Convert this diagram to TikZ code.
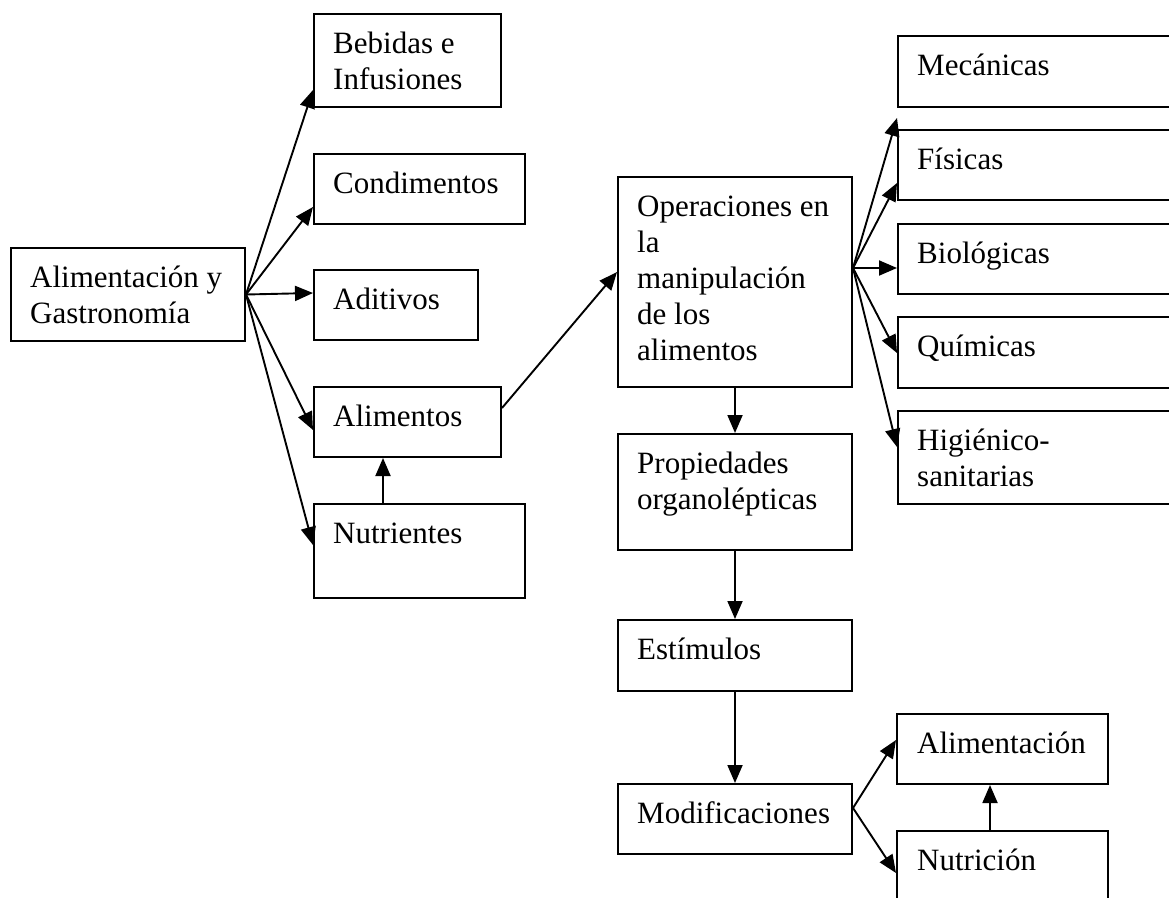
\documentclass[tikz,border=0pt]{standalone}
\usepackage{fontspec}
\setmainfont{Liberation Serif}
\usetikzlibrary{arrows.meta,calc}
\begin{document}
\begin{tikzpicture}[x=1pt,y=-1pt,
  box/.style={draw, line width=2pt, inner sep=0pt, anchor=north west},
  lbl/.style={anchor=north west, inner sep=0pt, align=left, font=\fontsize{31}{36}\selectfont},
  arr/.style={line width=1.9pt, -{Triangle[length=18pt,width=15pt]}}]
\useasboundingbox (0,0) rectangle (1169,897);
\fill[white] (0,0) rectangle (1169,897);
\clip (0,0) rectangle (1169,897);

% boxes
\node[box, minimum width=234pt, minimum height=93pt] (ag) at (10,247) {};
\node[box, minimum width=187pt, minimum height=93pt] (beb) at (313,13) {};
\node[box, minimum width=211pt, minimum height=70pt] (cond) at (313,153) {};
\node[box, minimum width=164pt, minimum height=70pt] (adit) at (313,269) {};
\node[box, minimum width=187pt, minimum height=70pt] (alim) at (313,386) {};
\node[box, minimum width=211pt, minimum height=94pt] (nutr) at (313,503) {};
\node[box, minimum width=234pt, minimum height=210pt] (oper) at (617,176) {};
\node[box, minimum width=234pt, minimum height=116pt] (prop) at (617,433) {};
\node[box, minimum width=234pt, minimum height=71pt] (estim) at (617,619) {};
\node[box, minimum width=234pt, minimum height=70pt] (modif) at (617,783) {};
\node[box, minimum width=300pt, minimum height=71pt] (mec) at (897,35) {};
\node[box, minimum width=300pt, minimum height=70pt] (fis) at (897,129) {};
\node[box, minimum width=300pt, minimum height=70pt] (bio) at (897,223) {};
\node[box, minimum width=300pt, minimum height=71pt] (quim) at (897,316) {};
\node[box, minimum width=300pt, minimum height=93pt] (hig) at (897,410) {};
\node[box, minimum width=211pt, minimum height=70pt] (alimt) at (896,713) {};
\node[box, minimum width=211pt, minimum height=100pt] (nutc) at (896,830) {};

% labels
\node[lbl] (ag-t) at ($(ag.north west)+(20,14.8)$) {\strut Alimentación y\\Gastronomía};
\node[lbl] (beb-t) at ($(beb.north west)+(20,14.8)$) {\strut Bebidas e\\Infusiones};
\node[lbl] (cond-t) at ($(cond.north west)+(20,14.8)$) {\strut Condimentos};
\node[lbl] (adit-t) at ($(adit.north west)+(20,14.8)$) {\strut Aditivos};
\node[lbl] (alim-t) at ($(alim.north west)+(20,14.8)$) {\strut Alimentos};
\node[lbl] (nutr-t) at ($(nutr.north west)+(20,14.8)$) {\strut Nutrientes};
\node[lbl] (oper-t) at ($(oper.north west)+(20,14.8)$) {\strut Operaciones en\\la\\manipulación\\de los\\alimentos};
\node[lbl] (prop-t) at ($(prop.north west)+(20,14.8)$) {\strut Propiedades\\organolépticas};
\node[lbl] (estim-t) at ($(estim.north west)+(20,14.8)$) {\strut Estímulos};
\node[lbl] (modif-t) at ($(modif.north west)+(20,14.8)$) {\strut Modificaciones};
\node[lbl] (mec-t) at ($(mec.north west)+(20,14.8)$) {\strut Mecánicas};
\node[lbl] (fis-t) at ($(fis.north west)+(20,14.8)$) {\strut Físicas};
\node[lbl] (bio-t) at ($(bio.north west)+(20,14.8)$) {\strut Biológicas};
\node[lbl] (quim-t) at ($(quim.north west)+(20,14.8)$) {\strut Químicas};
\node[lbl] (hig-t) at ($(hig.north west)+(20,14.8)$) {\strut Higiénico-\\sanitarias};
\node[lbl] (alimt-t) at ($(alimt.north west)+(21,14.8)$) {\strut Alimentación};
\node[lbl] (nutc-t) at ($(nutc.north west)+(21,14.8)$) {\strut Nutrición};

% connectors
\draw[arr] (ag.east) -- (beb.west |- 0,90);
\draw[arr] (ag.east) -- (cond.west |- 0,207);
\draw[arr] (ag.east) -- (adit.west |- 0,293);
\draw[arr] (ag.east) -- (alim.west |- 0,430);
\draw[arr] (ag.east) -- (nutr.west |- 0,545);
\draw[arr] (nutr.north -| 383,0) -- (alim.south -| 383,0);
\draw[arr] (alim.east |- 0,408) -- (oper.west |- 0,272);
\coordinate (os) at (oper.east |- 0,268);
\draw[arr] (os) -- (mec.west |- 0,118);
\draw[arr] (os) -- (fis.west |- 0,183);
\draw[arr] (os) -- (bio.west |- 0,268);
\draw[arr] (os) -- (quim.west |- 0,353);
\draw[arr] (os) -- (hig.west |- 0,447);
\draw[arr] (oper.south) -- (prop.north);
\draw[arr] (prop.south) -- (estim.north);
\draw[arr] (estim.south) -- (modif.north);
\coordinate (ms) at (modif.east |- 0,808);
\draw[arr] (ms) -- (alimt.west |- 0,740);
\draw[arr] (ms) -- (nutc.west |- 0,873);
\draw[arr] (nutc.north -| 990,0) -- (alimt.south -| 990,0);
\end{tikzpicture}
\end{document}
